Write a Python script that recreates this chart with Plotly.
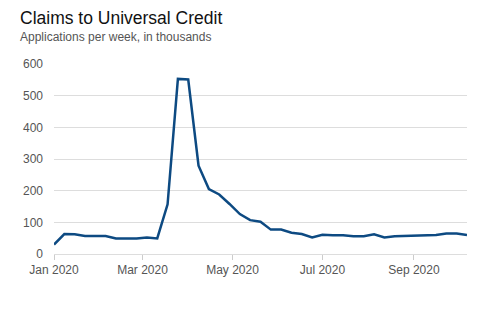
import pandas as pd
import plotly.graph_objects as go

# Weekly Universal Credit applications (thousands), weeks starting 1 Jan 2020
week_start = "2020-01-01"
claims = [30, 63, 62, 57, 57, 57, 49, 49, 49, 52,
          49, 157, 553, 551, 279, 205, 188, 158, 126, 107,
          102, 77, 77, 67, 63, 52, 61, 59, 59, 56,
          56, 62, 52, 56, 57, 59, 60, 60, 65, 65,
          60]
weeks = pd.date_range(week_start, periods=len(claims), freq="7D")

y_ticks = [0, 100, 200, 300, 400, 500, 600]
x_ticks = ["2020-01-01", "2020-03-01", "2020-05-01", "2020-07-01", "2020-09-01"]
x_tick_text = ["Jan 2020", "Mar 2020", "May 2020", "Jul 2020", "Sep 2020"]

PLOT_W, PLOT_H, LEFT, TOP = 413, 190, 54, 64

fig = go.Figure(
    go.Scatter(
        x=weeks,
        y=claims,
        mode="lines",
        line=dict(color="#0d4a82", width=2.5),
        hoverinfo="skip",
    )
)

fig.update_layout(
    width=492,
    height=330,
    margin=dict(l=LEFT, r=25, t=TOP, b=76),
    paper_bgcolor="white",
    plot_bgcolor="white",
    font=dict(family="Liberation Sans, Arial, sans-serif", color="#555555", size=12),
    showlegend=False,
)

# heading and subheading, positioned in pixels from the top-left corner
fig.add_annotation(text="Claims to Universal Credit", xref="paper", yref="paper",
                   x=(18 - LEFT) / PLOT_W, y=1 + (TOP - 18) / PLOT_H, xanchor="left",
                   yanchor="middle", showarrow=False,
                   font=dict(size=17.5, color="#111111"))
fig.add_annotation(text="Applications per week, in thousands", xref="paper", yref="paper",
                   x=(18 - LEFT) / PLOT_W, y=1 + (TOP - 37) / PLOT_H, xanchor="left",
                   yanchor="middle", showarrow=False,
                   font=dict(size=12, color="#555555"))

fig.update_xaxes(
    range=[weeks[0], weeks[-1]],
    tickvals=x_ticks,
    ticktext=x_tick_text,
    ticks="outside",
    ticklen=5,
    tickcolor="#cccccc",
    showgrid=False,
    showline=False,
    zeroline=False,
)
fig.update_yaxes(
    range=[0, 600],
    tickvals=y_ticks,
    showgrid=True,
    gridcolor="#dddddd",
    gridwidth=1,
    zeroline=True,
    zerolinecolor="#dddddd",
    zerolinewidth=1,
    showline=False,
    ticks="",
    ticklabelstandoff=10,
)

fig.write_html("out.html")
